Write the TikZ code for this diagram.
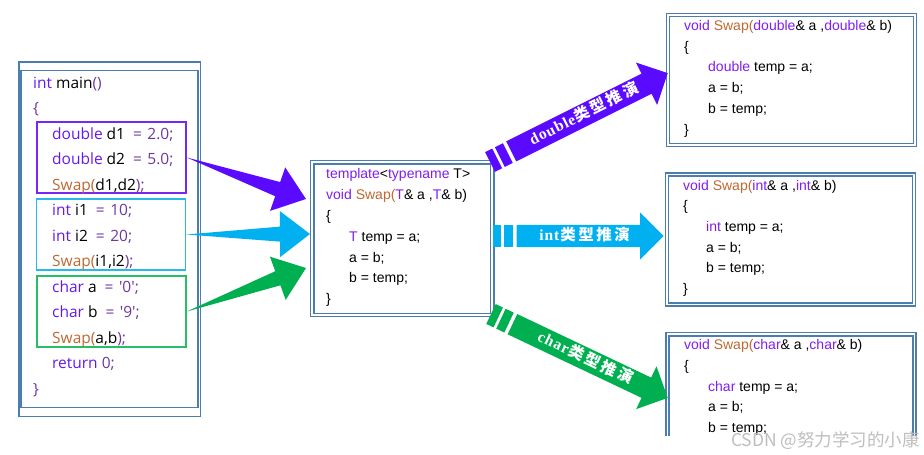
\documentclass[tikz,border=0pt]{standalone}
\usepackage{fontspec}
\setmainfont{Liberation Sans}
\newfontfamily\mainfnt{Open Sans}[Ligatures=TeXOff]
\newfontfamily\cjk{Noto Sans CJK SC}
\newfontfamily\lblfnt{Liberation Serif}[LetterSpace=6]
\usepackage{tikz}
\usetikzlibrary{calc,shapes.arrows}
\definecolor{framebl}{RGB}{75,125,175}
\definecolor{arrpurple}{RGB}{90,10,255}
\definecolor{arrcyan}{RGB}{0,176,240}
\definecolor{arrgreen}{RGB}{0,176,80}
\definecolor{grppurple}{RGB}{120,40,245}
\definecolor{grpcyan}{RGB}{40,185,235}
\definecolor{grpgreen}{RGB}{40,190,100}
\definecolor{kwmain}{RGB}{100,25,240}
\definecolor{opmain}{RGB}{110,55,160}
\definecolor{kwcode}{RGB}{128,30,240}
\definecolor{fncol}{RGB}{190,105,50}
\definecolor{wmgray}{RGB}{190,190,190}
\newcommand{\kwm}[1]{\textcolor{kwmain}{#1}}
\newcommand{\opm}[1]{\textcolor{opmain}{#1}}
\newcommand{\kwc}[1]{\textcolor{kwcode}{#1}}
\newcommand{\fnc}[1]{\textcolor{fncol}{#1}}
\newcommand{\eqm}[1]{\hspace{8pt}\opm{=}\hspace{5.5pt}\opm{#1}}
\newcommand{\arrlabel}[1]{{\lblfnt\bfseries #1}\hspace{1pt}{\cjk\bfseries 类\hspace{2.5pt}型\hspace{2.5pt}推\hspace{2.5pt}演}\hspace{14pt}}
\tikzset{
    frameline/.style={draw=framebl, line width=1.5pt},
    dblframe/.style={
        rectangle,
        draw=framebl,
        double=white,
        double distance=1.8pt,
        line width=1.3pt,
        inner sep=0pt
    },
    grpbox/.style={rectangle, draw, line width=1.5pt, minimum width=149pt, minimum height=71pt, inner sep=0pt},
    mainline/.style={anchor=base west, inner sep=0pt, font=\mainfnt\fontsize{15.5}{18}\selectfont},
    codeline/.style={anchor=base west, inner sep=0pt, font=\fontsize{14}{16}\selectfont},
    blockarrow/.style={
        single arrow,
        single arrow head extend=12.5pt,
        inner xsep=0pt,
        inner ysep=4pt,
        text height=11pt,
        text depth=3pt,
        text=white,
        anchor=tip,
        font=\fontsize{15.5}{16}\selectfont
    },
    stripe/.style={rectangle, inner sep=0pt, minimum height=22pt},
}
% fat tapered arrow: colour, tail, tip
\newcommand{\wedgearr}[3]{%
    \coordinate (hb) at ($(#3)!30pt!(#2)$);
    \fill[#1] (#2) -- ($(hb)!7.5pt!90:(#3)$) -- ($(hb)!23pt!90:(#3)$) -- (#3)
        -- ($(hb)!23pt!-90:(#3)$) -- ($(hb)!7.5pt!-90:(#3)$) -- cycle;
}
% striped block arrow: colour, start, tip, label
\newcommand{\blockarr}[4]{%
    \path let \p1=($(#3)-(#2)$), \n1={atan2(\y1,\x1)}, \n2={veclen(\x1,\y1)} in
        node[blockarrow, fill=#1, rotate=\n1, minimum height=\n2-24pt] (#2body) at (#3) {#4}
        node[stripe, fill=#1, rotate=\n1, minimum width=8pt] (#2s1) at ($(#2)!4pt!(#3)$) {}
        node[stripe, fill=#1, rotate=\n1, minimum width=9pt] (#2s2) at ($(#2)!15.5pt!(#3)$) {};
}
\begin{document}
\begin{tikzpicture}[x=1pt, y=-1pt]
    \fill[white] (0,0) rectangle (924,455);
    \useasboundingbox (0,0) rectangle (924,455);

    % main() box
    \node[rectangle, frameline, minimum width=181.5pt, minimum height=354.5pt, inner sep=0pt] (mainbox) at (109.5,239) {};
    \draw[frameline] ($(mainbox.north west)+(3,9.5)$) rectangle ($(mainbox.south east)+(-3,-9.5)$);
    \node[grpbox, draw=grppurple] (dblgrp) at (111.5,157.5) {};
    \node[grpbox, draw=grpcyan] (intgrp) at (111,234.5) {};
    \node[grpbox, draw=grpgreen] (chrgrp) at (111.5,311.5) {};
    \foreach \xx/\txt [count=\i from 0] in {
        33/{\kwm{int} main\opm{()}},
        33/{\opm{\{}},
        52/{\kwm{double} d1\eqm{2.0;}},
        52/{\kwm{double} d2\eqm{5.0;}},
        52/{\fnc{Swap(}d1,d2\opm{);}},
        52/{\kwm{int} i1\eqm{10;}},
        52/{\kwm{int} i2\eqm{20;}},
        52/{\fnc{Swap(}i1,i2\opm{);}},
        52/{\kwm{char} a\eqm{'0';}},
        52/{\kwm{char} b\eqm{'9';}},
        52/{\fnc{Swap(}a,b\opm{);}},
        52/{\kwm{return} \opm{0;}},
        33/{\opm{\}}}}
        \node[mainline] (m\i) at (\xx,88+25.5*\i) {\txt};

    % template box
    \node[dblframe, minimum width=180pt, minimum height=152.4pt] (tmpl) at (402.3,238.5) {};
    \foreach \xx/\txt [count=\i from 0] in {
        326/{\kwc{template}<\kwc{typename} T>},
        326/{\kwc{void} \fnc{Swap(}\kwc{T}\& a ,\kwc{T}\& b)},
        326/{\{},
        349/{\kwc{T} temp = a;},
        349/{a = b;},
        349/{b = temp;},
        326/{\}}}
        \node[codeline] (t\i) at (\xx,178.8+20.8*\i) {\txt};

    % deduced functions (bottom one cut by the picture edge)
    \begin{scope}
        \clip (0,0) rectangle (924,435);
        \foreach \tname/\yy/\bx/\xa/\xb [count=\k] in {double/80/791.5/684/708, int/239.5/790.5/683/706, char/399.3/791/684/708}{
            \node[dblframe, minimum width=247pt, minimum height=130pt] (res\k) at (\bx,\yy) {};
            \foreach \xx/\txt [count=\i from 0] in {
                \xa/{\kwc{void} \fnc{Swap(}\kwc{\tname}\& a ,\kwc{\tname}\& b)},
                \xa/{\{},
                \xb/{\kwc{\tname} temp = a;},
                \xb/{a = b;},
                \xb/{b = temp;},
                \xa/{\}}}
                \node[codeline] (res\k-\i) at (\xx,\yy-49.5+20.7*\i) {\txt};
        }
    \end{scope}

    % calls into the template
    \coordinate (tipd) at (306,199);
    \coordinate (tipi) at (310,234);
    \coordinate (tipc) at (306,268);
    \wedgearr{arrpurple}{dblgrp.east}{tipd}
    \wedgearr{arrcyan}{intgrp.east}{tipi}
    \wedgearr{arrgreen}{chrgrp.east}{tipc}

    % deduction arrows
    \coordinate (dstart) at (490,162);
    \coordinate (dtip) at (668,73);
    \coordinate (istart) at (493,236);
    \coordinate (itip) at (664,236);
    \coordinate (cstart) at (491,314);
    \coordinate (ctip) at (668,398);
    \blockarr{arrpurple}{dstart}{dtip}{\arrlabel{double}}
    \blockarr{arrcyan}{istart}{itip}{\arrlabel{int}}
    \blockarr{arrgreen}{cstart}{ctip}{\arrlabel{char}}

    % watermark
    \node[anchor=west, inner sep=0pt, text=wmgray, font=\cjk\fontsize{17.5}{19}\selectfont] (wmark) at (731,441) {CSDN @努力学习的小康};
\end{tikzpicture}
\end{document}
